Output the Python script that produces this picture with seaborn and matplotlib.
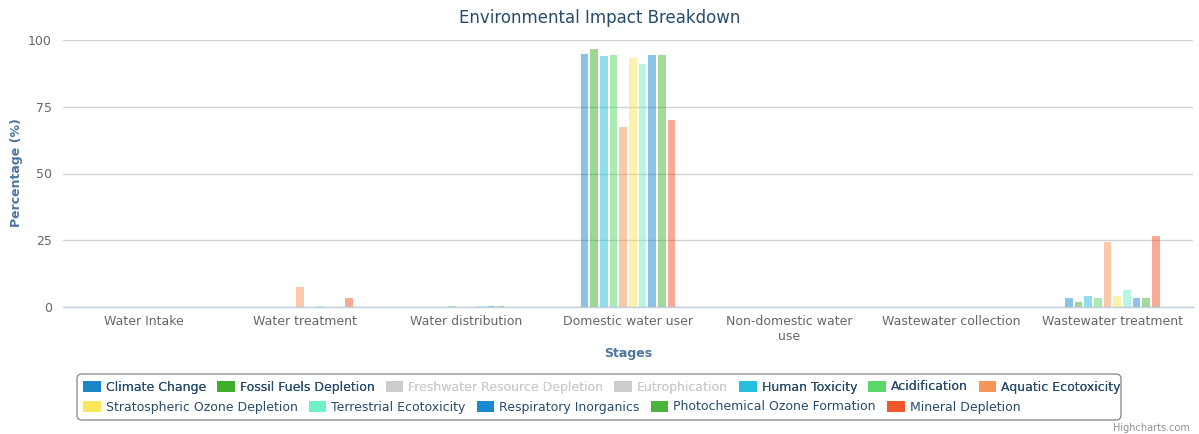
import matplotlib
matplotlib.use("Agg")
import matplotlib.pyplot as plt
from matplotlib.patches import Patch, FancyBboxPatch
import numpy as np
import pandas as pd
import seaborn as sns

# Life-cycle stages along the x axis
stages = ["Water Intake", "Water treatment", "Water distribution",
          "Domestic water user", "Non-domestic water\nuse",
          "Wastewater collection", "Wastewater treatment"]

# Share (%) of each impact category attributed to every stage
climate_change = [0, 0, 0, 94.8, 0, 0, 3.4]
fossil_fuels_depletion = [0, 0, 0, 96.7, 0, 0, 1.8]
human_toxicity = [0, 0, 0, 94.0, 0, 0, 4.1]
acidification = [0, 0, 0.4, 94.3, 0, 0, 3.4]
aquatic_ecotoxicity = [0, 7.5, 0, 67.5, 0, 0, 24.5]
stratospheric_ozone_depletion = [0, 0, 0, 93.3, 0, 0, 4.1]
terrestrial_ecotoxicity = [0, 0.3, 0.4, 91.0, 0, 0, 6.4]
respiratory_inorganics = [0, 0, 0.4, 94.3, 0, 0, 3.4]
photochemical_ozone_formation = [0, 0, 0.4, 94.3, 0, 0, 3.4]
mineral_depletion = [0, 3.5, 0, 70.0, 0, 0, 26.6]

# Legend order (all series), with the two switched-off series marked hidden
legend_names = ["Climate Change", "Fossil Fuels Depletion", "Freshwater Resource Depletion",
                "Eutrophication", "Human Toxicity", "Acidification", "Aquatic Ecotoxicity",
                "Stratospheric Ozone Depletion", "Terrestrial Ecotoxicity",
                "Respiratory Inorganics", "Photochemical Ozone Formation", "Mineral Depletion"]
legend_colors = ["#1a86c8", "#3fae2a", "#cccccc", "#cccccc", "#25bfe0", "#5bd86a",
                 "#f7945a", "#fbe75a", "#6ff0c6", "#1a8ad0", "#4bb43a", "#f0582a"]
hidden = {"Freshwater Resource Depletion", "Eutrophication"}

visible_series = {
    "Climate Change": climate_change,
    "Fossil Fuels Depletion": fossil_fuels_depletion,
    "Human Toxicity": human_toxicity,
    "Acidification": acidification,
    "Aquatic Ecotoxicity": aquatic_ecotoxicity,
    "Stratospheric Ozone Depletion": stratospheric_ozone_depletion,
    "Terrestrial Ecotoxicity": terrestrial_ecotoxicity,
    "Respiratory Inorganics": respiratory_inorganics,
    "Photochemical Ozone Formation": photochemical_ozone_formation,
    "Mineral Depletion": mineral_depletion,
}
color_of = dict(zip(legend_names, legend_colors))

rows = []
for name, vals in visible_series.items():
    for stage, v in zip(stages, vals):
        rows.append({"Stage": stage, "Impact": name, "Value": v})
df = pd.DataFrame(rows)

sns.set_style("white")
plt.rcParams["font.family"] = ["DejaVu Sans"]

fig = plt.figure(figsize=(11.99, 4.34), dpi=100)
ax = fig.add_axes([63 / 1199, 1 - 307 / 434, 1130 / 1199, 267 / 434])

hue_order = list(visible_series.keys())
sns.barplot(data=df, x="Stage", y="Value", hue="Impact", hue_order=hue_order,
            order=stages, palette=[color_of[n] for n in hue_order],
            width=0.6, gap=0.2, saturation=1, alpha=0.5, linewidth=0,
            edgecolor="none", legend=False, errorbar=None, ax=ax)

ax.set_xlim(-0.5, len(stages) - 0.5)
ax.set_ylim(0, 100)
ax.set_yticks([0, 25, 50, 75, 100])
ax.yaxis.grid(True, color="#d0d0d0", linewidth=1)
ax.set_axisbelow(True)
for side in ["left", "top", "right"]:
    ax.spines[side].set_visible(False)
ax.spines["bottom"].set_color("#c0d0e0")
ax.spines["bottom"].set_linewidth(1)

ax.set_xlabel("")
ax.set_ylabel("")
ax.tick_params(axis="x", which="major", length=0, pad=6, labelsize=9, labelcolor="#666666")
ax.set_xticks(np.arange(-0.5, len(stages)), minor=True)
ax.tick_params(axis="x", which="minor", length=5, color="#c0d0e0", direction="out")
ax.tick_params(axis="y", length=0, pad=8, labelsize=9, labelcolor="#666666")

fig.text(0.5, 1 - 18 / 434, "Environmental Impact Breakdown", ha="center", va="center",
         fontsize=12, color="#274b6d")
fig.text(17 / 1199, 1 - 173 / 434, "Percentage (%)", rotation=90, ha="center", va="center",
         fontsize=9, fontweight="bold", color="#4d759e")
fig.text(628 / 1199, 1 - 353 / 434, "Stages", ha="center", va="center",
         fontsize=9, fontweight="bold", color="#4d759e")
fig.text(1190 / 1199, 1 - 428 / 434, "Highcharts.com", ha="right", va="center",
         fontsize=7, color="#909090")

# Legend frame
frame = FancyBboxPatch((0.77, 0.14), 10.44, 0.46, boxstyle="round,pad=0,rounding_size=0.05",
                       transform=fig.dpi_scale_trans, facecolor="white",
                       edgecolor="#909090", linewidth=1)
fig.add_artist(frame)

def legend_row(names, y):
    handles = [Patch(facecolor=color_of[n], edgecolor="none") for n in names]
    leg = fig.legend(handles, names, loc="center left", bbox_to_anchor=(83 / 1199, 1 - y / 434),
                     ncol=len(names), frameon=False, fontsize=9, handlelength=1.4,
                     handleheight=1.0, handletextpad=0.4, columnspacing=0.9,
                     borderpad=0, borderaxespad=0)
    for t, n in zip(leg.get_texts(), names):
        t.set_color("#cccccc" if n in hidden else "#274b6d")
    return leg

leg1 = legend_row(legend_names[:7], 387)
fig.add_artist(leg1)
legend_row(legend_names[7:], 407)

fig.savefig("out.png", dpi=100)
